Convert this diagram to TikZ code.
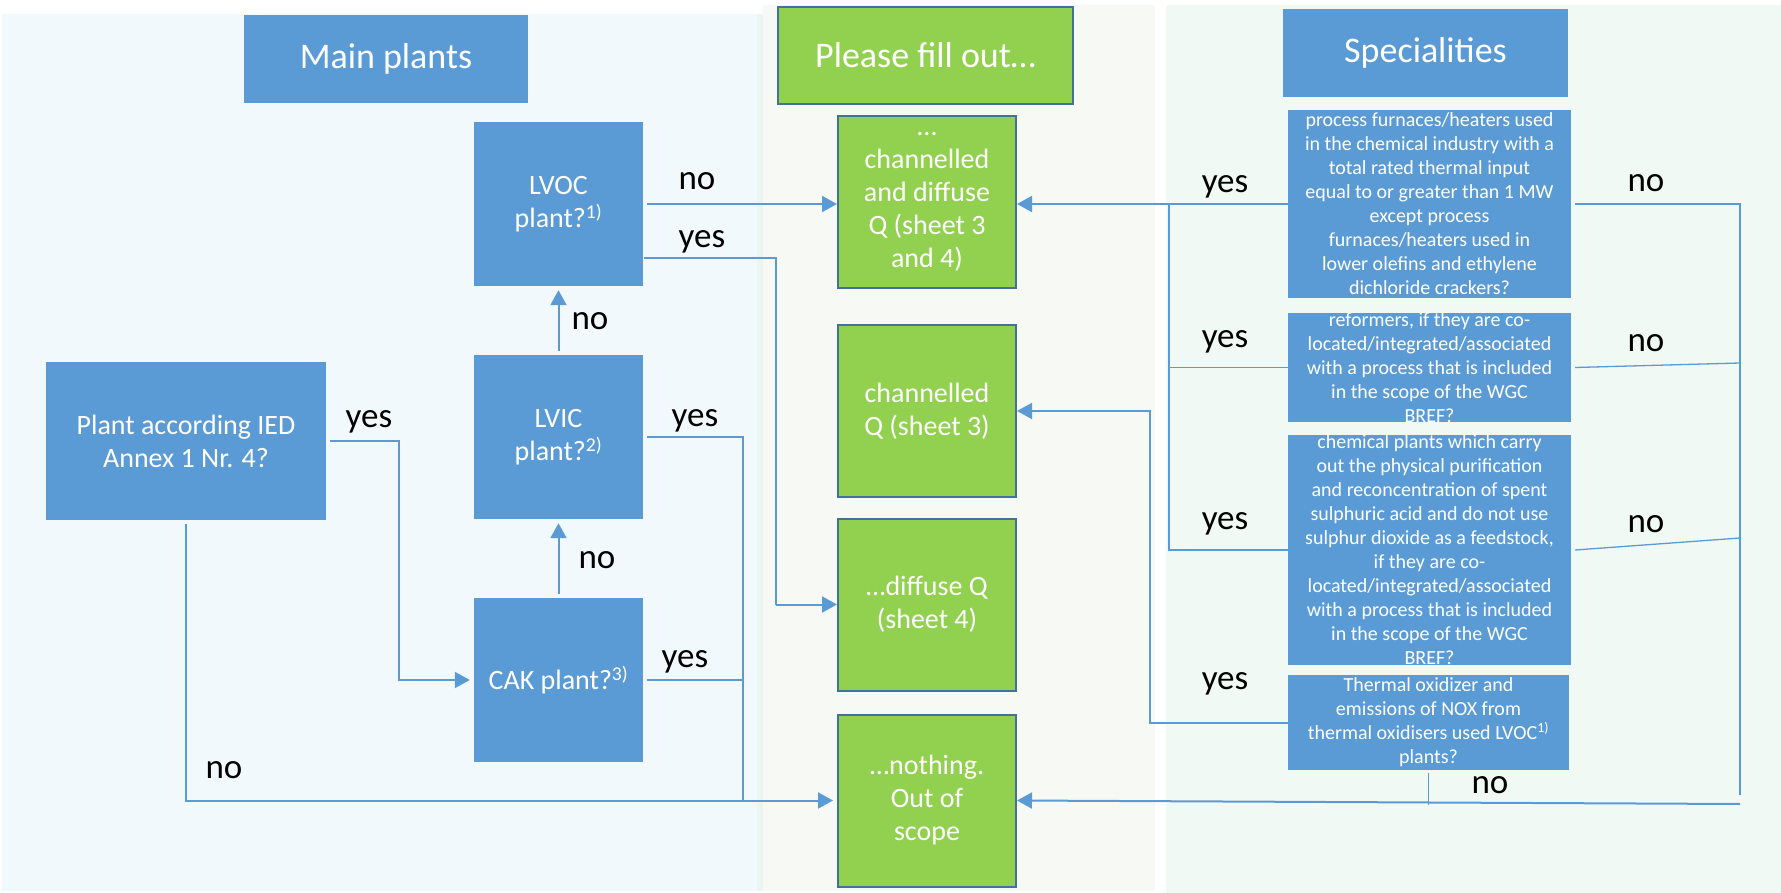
\documentclass[tikz,border=0pt]{standalone}
\usepackage{fontspec}
\setmainfont{Carlito}
\usepackage{xcolor}
\usetikzlibrary{arrows.meta}

\definecolor{boxblue}{HTML}{5B9BD5}
\definecolor{fillgreen}{HTML}{92D050}
\definecolor{edgeblue}{HTML}{41719C}
\definecolor{leftbg}{HTML}{F2F9FD}
\definecolor{seambg}{HTML}{EBF5F3}
\definecolor{midbg}{HTML}{F7F9F4}
\definecolor{rightbg}{HTML}{F1F9F5}

\tikzset{
  headbox/.style={fill=boxblue, text=white, inner sep=0pt, font=\fontsize{36}{43}\selectfont},
  qbox/.style={fill=boxblue, text=white, inner sep=0pt, minimum width=169pt, minimum height=164pt, align=center, font=\fontsize{28}{33}\selectfont},
  fillbox/.style={fill=fillgreen, draw=edgeblue, line width=2pt, text=white, inner sep=0pt, minimum width=178pt, minimum height=172pt, align=center, font=\fontsize{28}{33}\selectfont},
  spbox/.style={fill=boxblue, inner sep=0pt, minimum width=283pt},
  sptext/.style={text=white, align=center, inner sep=0pt, font=\fontsize{20}{24}\selectfont},
  answer/.style={anchor=base, inner sep=0pt, font=\fontsize{35}{42}\selectfont},
  flow/.style={draw=boxblue, line width=2pt, -{Triangle[length=15pt,width=16pt]}},
  wire/.style={draw=boxblue, line width=1.3pt},
}

\begin{document}
\begin{tikzpicture}[x=1pt,y=-1pt]
\useasboundingbox (0,0) rectangle (1781,893);

% Background panels
\fill[leftbg] (2,14) rectangle (757,891);
\fill[seambg] (757,14) rectangle (763,891);
\fill[midbg] (763,5) rectangle (1155,891);
\fill[rightbg] (1166,5) rectangle (1781,893);

% Headers
\node[headbox, minimum width=284pt, minimum height=88pt] (mainhd) at (386,59) {Main plants};
\node[headbox, fill=fillgreen, draw=edgeblue, line width=2pt, minimum width=295pt, minimum height=97pt] (fillhd) at (925.5,55.5) {Please fill out…};
\node[headbox, minimum width=285pt, minimum height=88pt] (spechd) at (1425.5,53) {Specialities};

% Main plants
\node[qbox, minimum width=280pt, minimum height=158pt] (ied) at (186,441) {Plant according IED\\Annex 1 Nr. 4?};
\node[qbox] (lvoc) at (558.5,204) {LVOC\\plant?\textsuperscript{1)}};
\node[qbox] (lvic) at (558.5,437) {LVIC\\plant?\textsuperscript{2)}};
\node[qbox] (cak) at (558.5,680) {CAK plant?\textsuperscript{3)}};

% Sheets to fill out
\node[fillbox] (both) at (927,202) {…\\channelled\\and diffuse\\Q (sheet 3\\and 4)};
\node[fillbox] (chan) at (927,411) {channelled\\Q (sheet 3)};
\node[fillbox] (diff) at (927,604.5) {…diffuse Q\\(sheet 4)};
\node[fillbox] (none) at (927,800.5) {…nothing.\\Out of\\scope};

% Specialities
\node[spbox, minimum height=188pt] (furn) at (1429.5,204) {};
\node[sptext] (furn-txt) at (furn) {process furnaces/heaters used\\in the chemical industry with a\\total rated thermal input\\equal to or greater than 1 MW\\except process\\furnaces/heaters used in\\lower olefins and ethylene\\dichloride crackers?};
\node[spbox, minimum height=109pt] (reform) at (1429.5,367.5) {};
\node[sptext] (reform-txt) at (reform) {reformers, if they are co-\\located/integrated/associated\\with a process that is included\\in the scope of the WGC\\BREF?};
\node[spbox, minimum height=230pt] (chem) at (1429.5,550) {};
\node[sptext] (chem-txt) at (chem) {chemical plants which carry\\out the physical purification\\and reconcentration of spent\\sulphuric acid and do not use\\sulphur dioxide as a feedstock,\\if they are co-\\located/integrated/associated\\with a process that is included\\in the scope of the WGC\\BREF?};
\node[spbox, minimum width=281pt, minimum height=95pt] (therm) at (1428.5,722.5) {};
\node[sptext] (therm-txt) at (therm) {Thermal oxidizer and\\emissions of NOX from\\thermal oxidisers used LVOC\textsuperscript{1)}\\plants?};

% Junctions
\coordinate (iedjoint) at (399,680);
\coordinate (lvocjoint) at (776,604.5);
\coordinate (sumjoint) at (743,800);
\coordinate (furnjoint) at (1169,204);
\coordinate (thermjoint) at (1150,411);
\coordinate (nojoint) at (1740,204);
\coordinate (nobottom) at (1740,795);
\coordinate (reformno) at (1740,363);
\coordinate (chemno) at (1740,538);
\coordinate (thermno) at (1428.5,805);
\coordinate (outjoint) at (1740,804);

% Main plant connectors
\draw[flow, shorten >=4pt] ([xshift=4pt]ied.east) -| (iedjoint) -- (cak.west);
\draw[flow, shorten >=4pt] ([yshift=-4pt]ied.south) |- (none.west);
\draw[flow, shorten <=4pt, shorten >=4pt] (cak.north) -- (lvic.south);
\draw[flow, shorten <=4pt, shorten >=4pt] (lvic.north) -- (lvoc.south);
\draw[flow] ([xshift=4pt]lvoc.east) -- (lvoc.east -| both.west);
\draw[wire] ([xshift=1pt,yshift=-54pt]lvoc.east) -| (lvocjoint);
\draw[flow] (lvocjoint) -- (diff.west);
\draw[wire] ([xshift=4pt]lvic.east) -| (sumjoint);
\draw[wire] ([xshift=4pt]cak.east) -- (cak.east -| sumjoint);

% Speciality connectors
\draw[flow] (furn.west) -- (furn.west -| both.east);
\draw[wire] (reform.west) -- (reform.west -| furnjoint);
\draw[wire] (chem.west) -| (furnjoint);
\draw[flow] (therm.west) -| (thermjoint) -- (chan.east);
\draw[wire] ([xshift=4pt]furn.east) -- (nojoint) -- (nobottom);
\draw[wire] ([xshift=4pt]reform.east) -- (reformno);
\draw[wire] ([xshift=4pt]chem.east) -- (chemno);
\draw[wire] ([yshift=-3pt]therm.south) -- (thermno);
\draw[flow] (outjoint) -- (none.east);

% Answers
\node[answer] (a1) at (697,190) {no};
\node[answer] (a2) at (702,248) {yes};
\node[answer] (a3) at (590,330) {no};
\node[answer] (a4) at (369,427) {yes};
\node[answer] (a5) at (695,426) {yes};
\node[answer] (a6) at (597,568) {no};
\node[answer] (a7) at (685,667) {yes};
\node[answer] (a8) at (224,778) {no};
\node[answer] (a9) at (1225,193) {yes};
\node[answer] (a10) at (1225,348) {yes};
\node[answer] (a11) at (1225,529) {yes};
\node[answer] (a12) at (1225,689) {yes};
\node[answer] (a13) at (1646,192) {no};
\node[answer] (a14) at (1646,352) {no};
\node[answer] (a15) at (1646,532) {no};
\node[answer] (a16) at (1490,793) {no};

\end{tikzpicture}
\end{document}
